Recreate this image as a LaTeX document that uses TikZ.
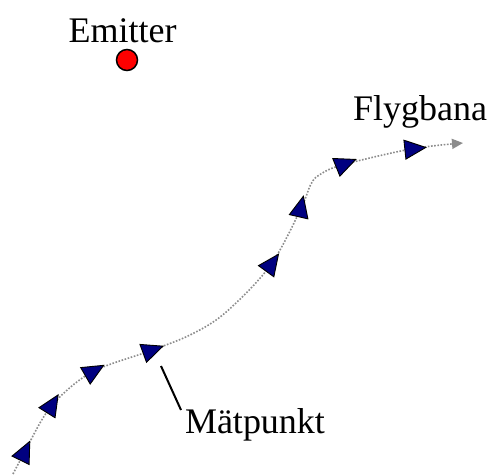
\documentclass[tikz,border=0pt]{standalone}
\usepackage{fontspec}
\setmainfont{Liberation Serif}
\usetikzlibrary{shapes.geometric,arrows.meta}
\definecolor{navyfill}{RGB}{0,0,128}
\definecolor{pathgray}{RGB}{140,140,140}
\tikzset{
  tri/.style={isosceles triangle, isosceles triangle apex angle=60,
    isosceles triangle stretches, inner sep=0pt, minimum width=19pt,
    minimum height=21pt, fill=navyfill, draw=black, line width=0.9pt},
  lbl/.style={font=\fontsize{36}{40}\selectfont, inner sep=0pt, anchor=base},
  flight/.style={pathgray, line width=1.6pt, dash pattern=on 1.6pt off 1.6pt,
    -{Triangle[length=11pt,width=10pt]}},
  emit/.style={circle, fill=red, draw=black, line width=1.5pt, minimum size=21pt, inner sep=0pt}
}
\begin{document}
\begin{tikzpicture}[x=1pt,y=-1pt]
\useasboundingbox (0,0) rectangle (491,475);
% path coordinates
\coordinate (p0) at (13,474);
\coordinate (m1) at (190,335);
\coordinate (m2) at (225,313);
\coordinate (q1) at (311,184);
\coordinate (q2) at (320,174.5);
\coordinate (pend) at (463,143);
% triangle marker positions
\coordinate (c1) at (23.25,454.75);
\coordinate (c2) at (50.25,407.5);
\coordinate (c3) at (90.75,372.75);
\coordinate (c4) at (149,351.25);
\coordinate (c5) at (269.75,266.25);
\coordinate (c6) at (300,210.75);
\coordinate (c7) at (342,165);
\coordinate (c8) at (411,149);
\draw[flight] plot[smooth, tension=0.55] coordinates {(p0) (c1) (c2) (c3) (c4) (m1) (m2) (c5) (c6) (q1) (q2) (c7) (c8) (pend)};
\node[tri, rotate=64] (t1) at (c1) {};
\node[tri, rotate=58] (t2) at (c2) {};
\node[tri, rotate=30] (t3) at (c3) {};
\node[tri, rotate=20] (t4) at (c4) {};
\node[tri, rotate=54] (t5) at (c5) {};
\node[tri, rotate=77] (t6) at (c6) {};
\node[tri, rotate=22] (t7) at (c7) {};
\node[tri, rotate=6] (t8) at (c8) {};
% labels
\node[lbl] (emitter) at (122.5,42) {Emitter};
\node[emit] (src) at (127,60) {};
\node[lbl] (flyg) at (420,120) {Flygbana};
\node[lbl] (mat) at (255,433) {Mätpunkt};
\coordinate (ms) at (161,366);
\coordinate (me) at (181,410);
\draw[line width=2pt] (ms) -- (me);
\end{tikzpicture}
\end{document}
